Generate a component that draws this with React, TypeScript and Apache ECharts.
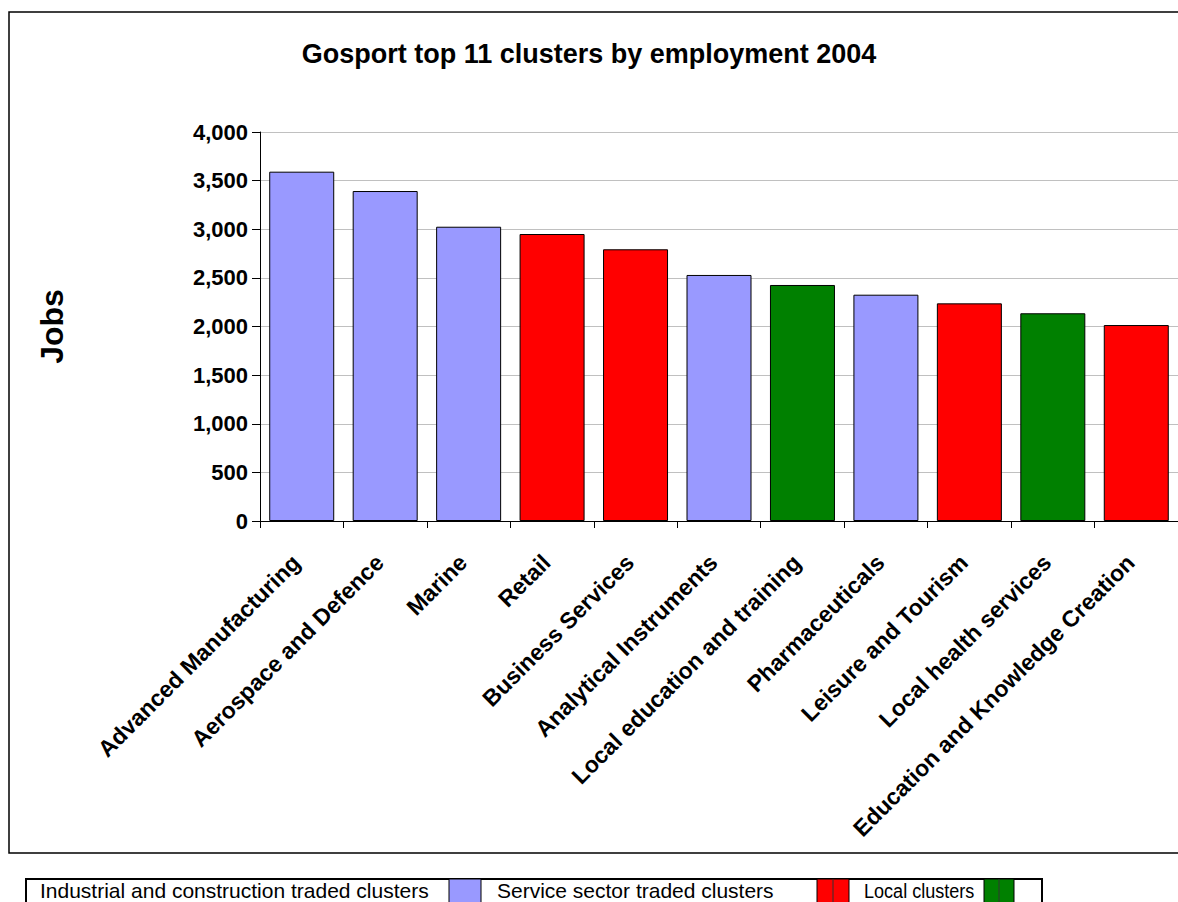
import React, { useEffect, useRef } from "react";
import * as echarts from "echarts";

const categories = [
  "Advanced Manufacturing",
  "Aerospace and Defence",
  "Marine",
  "Retail",
  "Business Services",
  "Analytical Instruments",
  "Local education and training",
  "Pharmaceuticals",
  "Leisure and Tourism",
  "Local health services",
  "Education and Knowledge Creation",
];
const jobs = [3592, 3393, 3026, 2951, 2794, 2530, 2427, 2327, 2238, 2136, 2015];
const barColors = [
  "#9999FF", "#9999FF", "#9999FF", "#FF0000", "#FF0000", "#9999FF",
  "#008000", "#9999FF", "#FF0000", "#008000", "#FF0000",
];
const yTicks = { min: 0, max: 4000, interval: 500 };
const legendLabels = [
  "Industrial and construction traded clusters",
  "Service sector traded clusters",
  "Local clusters",
];
const legendColors = ["#9999FF", "#FF0000", "#008000"];

const FONT = "'Liberation Sans', Arial, sans-serif";

export default function App() {
  const ref = useRef<HTMLDivElement>(null);
  useEffect(() => {
    if (!ref.current) return;
    const chart = echarts.init(ref.current, null, { renderer: "svg" });

    // legend table layout
    const legTop = 879;
    const legH = 34;
    const textX = [40, 497, 864];
    const textScale = [1, 1, 0.86];
    const swX = [[449, 481], [817, 849], [984, 1014]];
    const legendGraphics: any[] = [
      {
        type: "rect",
        shape: { x: 26, y: legTop, width: 1016, height: legH },
        style: { fill: "#fff", stroke: "#000", lineWidth: 2 },
      },
    ];
    legendLabels.forEach((lab, i) => {
      const [a, b] = swX[i];
      legendGraphics.push({
        type: "rect",
        shape: { x: a, y: legTop, width: b - a, height: legH },
        style: { fill: legendColors[i], stroke: "#000", lineWidth: 1 },
      });
      if (i > 0) {
        legendGraphics.push({
          type: "line",
          shape: { x1: (a + b) / 2, y1: legTop, x2: (a + b) / 2, y2: legTop + legH },
          style: { stroke: "#333", lineWidth: 1 },
        });
      }
      legendGraphics.push({
        type: "text",
        x: textX[i],
        y: legTop + 11,
        scaleX: textScale[i],
        style: {
          text: lab,
          font: `21px ${FONT}`,
          fill: "#000",
          verticalAlign: "middle",
          align: "left",
        },
      });
    });

    chart.setOption({
      animation: false,
      backgroundColor: "#fff",
      title: {
        text: "Gosport top 11 clusters by employment 2004",
        left: "center",
        top: 35,
        textStyle: { fontFamily: FONT, fontSize: 27, fontWeight: "bold", color: "#000" },
      },
      grid: { left: 260, top: 132, width: 918.5, height: 389, containLabel: false },
      xAxis: {
        type: "category",
        data: categories,
        axisLine: { lineStyle: { color: "#000", width: 1 } },
        axisTick: { show: true, alignWithLabel: false, length: 7, lineStyle: { color: "#000" } },
        axisLabel: {
          rotate: 45,
          interval: 0,
          margin: 32,
          padding: [0, 8, 0, 0],
          fontFamily: FONT,
          fontSize: 23,
          fontWeight: "bold",
          color: "#000",
        },
      },
      yAxis: {
        type: "value",
        min: yTicks.min,
        max: yTicks.max,
        interval: yTicks.interval,
        name: "Jobs",
        nameLocation: "middle",
        nameRotate: 90,
        nameGap: 192,
        nameTextStyle: { fontFamily: FONT, fontSize: 32, fontWeight: "bold", color: "#000" },
        axisLine: { show: true, lineStyle: { color: "#000", width: 1 } },
        axisTick: { show: true, inside: false, length: 8, lineStyle: { color: "#000" } },
        splitLine: { show: true, lineStyle: { color: "#c0c0c0", width: 1 } },
        axisLabel: {
          fontFamily: FONT,
          fontSize: 22,
          fontWeight: "bold",
          color: "#000",
          margin: 12,
          formatter: (v: number) => v.toLocaleString("en-US"),
        },
      },
      series: [
        {
          type: "bar",
          barWidth: 65,
          data: jobs.map((v, i) => ({
            value: v,
            itemStyle: { color: barColors[i], borderColor: "#000", borderWidth: 1 },
          })),
        },
      ],
      graphic: [
        {
          type: "polyline",
          shape: { points: [[1190, 12], [9, 12], [9, 853], [1190, 853]] },
          style: { stroke: "#000", lineWidth: 1.5, fill: "none" },
          z: 100,
        },
        ...legendGraphics,
      ],
    });
    return () => chart.dispose();
  }, []);
  return (
    <div
      ref={ref}
      style={{ position: "fixed", left: 0, top: 0, width: 1178, height: 902, background: "#fff" }}
    />
  );
}
